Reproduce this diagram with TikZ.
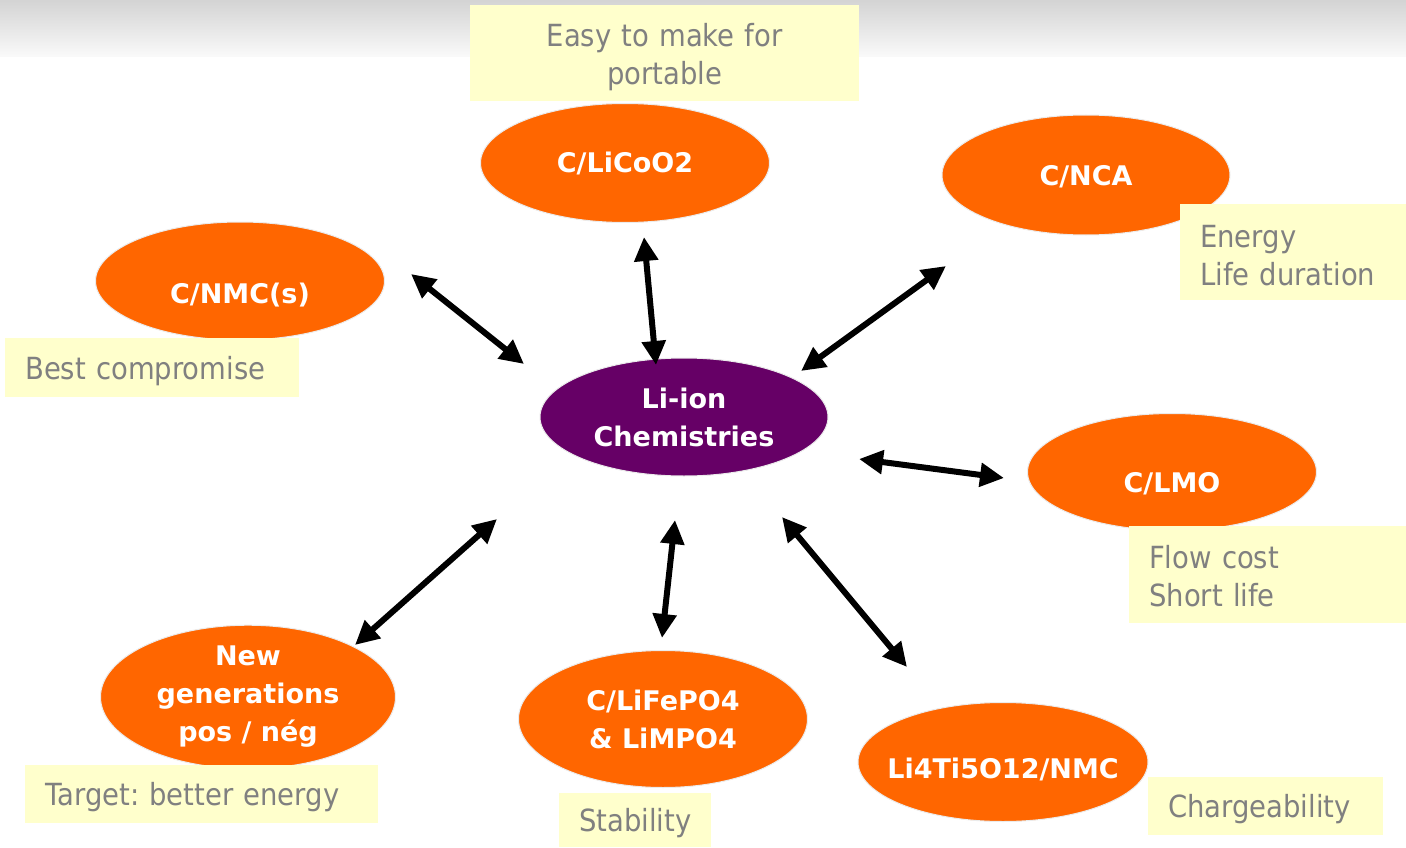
\documentclass[tikz,border=0pt]{standalone}
\usepackage{fontspec}
\setmainfont{DejaVu Sans}
\newfontfamily\notefont{DejaVu Sans}[FakeStretch=0.9]
\usetikzlibrary{shapes.geometric,arrows.meta}
\definecolor{chemorange}{HTML}{FF6600}
\definecolor{chempurple}{HTML}{660066}
\definecolor{noteyellow}{HTML}{FFFFCC}
\definecolor{notegray}{HTML}{808080}
\frenchspacing
\newcommand\ovaltext[2]{\raisebox{#1}[0pt][0pt]{\makebox[0pt]{#2}}}
\begin{document}
\begin{tikzpicture}[x=1pt,y=-1pt,
   chem/.style={ellipse,fill=chemorange,draw=black!8,line width=1pt,text=white,
      font=\fontsize{27}{38}\selectfont\bfseries,align=center,inner sep=0pt,
      minimum width=289pt,minimum height=119pt},
   note/.style={fill=noteyellow,text=notegray,font=\notefont\fontsize{30.5}{38}\selectfont,
      inner xsep=20pt,inner ysep=0pt,text depth=0pt,align=left,anchor=north west},
   both/.style={line width=6pt,
      {Triangle[length=24pt,width=23pt]}-{Triangle[length=24pt,width=23pt]}}]
   \useasboundingbox (0,0) rectangle (1406,848);
   \shade [top color=black!17,bottom color=black!2] (0,0) rectangle (1406,57);
   \node [chem] (licoo) at (625,163) {\ovaltext{-10pt}{C/LiCoO2}};
   \node [chem,minimum width=288pt,minimum height=120pt] (nca) at (1086,175) {\ovaltext{-11pt}{C/NCA}};
   \node [chem,minimum height=118pt] (nmc) at (240,281) {\ovaltext{-22pt}{C/NMC(s)}};
   \node [chem,fill=chempurple,minimum width=288pt,minimum height=118pt] (liion) at (684,417) {Li-ion\\Chemistries};
   \node [chem,minimum height=117pt] (lmo) at (1172,472) {\ovaltext{-20pt}{C/LMO}};
   \node [chem,minimum width=295pt,minimum height=140pt] (newgen) at (248,697) {New\\generations\\pos / nég};
   \node [chem,minimum height=137pt] (lfp) at (663,719) {C/LiFePO4\\\& LiMPO4};
   \node [chem,minimum width=290pt] (lto) at (1003,762) {\ovaltext{-16pt}{Li4Ti5O12/NMC}};
   \node [note,align=center,text width=349pt,minimum height=96pt,text depth=37pt] (easynote) at (470,5) {Easy to make for\\portable};
   \node [note,text width=186pt,minimum height=96pt,text depth=32pt] (energynote) at (1180,204) {Energy\\Life duration};
   \node [note,text width=254pt,minimum height=59pt] (bestnote) at (5,338) {Best compromise};
   \node [note,text width=237pt,minimum height=97pt,text depth=35pt] (costnote) at (1129,526) {Flow cost\\Short life};
   \node [note,text width=313pt,minimum height=58pt] (targetnote) at (25,765) {Target: better energy};
   \node [note,text width=112pt,minimum height=54pt] (stabnote) at (559,793) {Stability};
   \node [note,text width=195pt,minimum height=58pt] (chargenote) at (1148,777) {Chargeability};
   \coordinate (nmc-out) at (411,274);
   \coordinate (nmc-in) at (524,364);
   \coordinate (licoo-out) at (644,237);
   \coordinate (licoo-in) at (656,365);
   \coordinate (nca-out) at (946,266);
   \coordinate (nca-in) at (801,371);
   \coordinate (lmo-in) at (859,459);
   \coordinate (lmo-out) at (1004,478);
   \coordinate (lfp-in) at (675,520);
   \coordinate (lfp-out) at (662,638);
   \coordinate (lto-in) at (782,517);
   \coordinate (lto-out) at (907,667);
   \coordinate (newgen-in) at (497,519);
   \coordinate (newgen-out) at (355,645);
   \draw [both] (nmc-out) -- (nmc-in);
   \draw [both] (licoo-out) -- (licoo-in);
   \draw [both] (nca-out) -- (nca-in);
   \draw [both] (lmo-in) -- (lmo-out);
   \draw [both] (lfp-in) -- (lfp-out);
   \draw [both] (lto-in) -- (lto-out);
   \draw [both] (newgen-in) -- (newgen-out);
\end{tikzpicture}
\end{document}
